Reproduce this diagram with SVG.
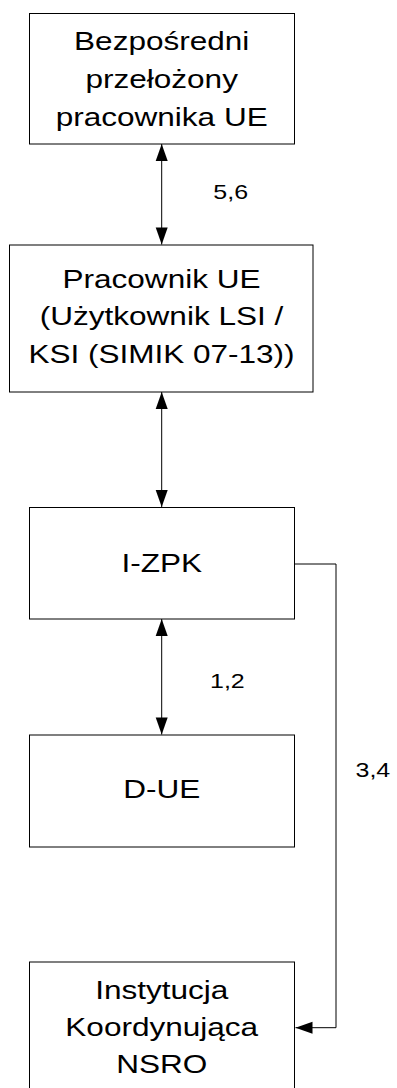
<svg xmlns="http://www.w3.org/2000/svg" width="397" height="1088" viewBox="0 0 397 1088">
<style>
.box{fill:#fff;stroke:#000;stroke-width:1}
.t{font-family:"Liberation Sans",Arial,sans-serif;font-size:26.5px;fill:#000;text-anchor:middle}
.l{font-family:"Liberation Sans",Arial,sans-serif;font-size:21px;fill:#000}
.c{fill:none;stroke:#000;stroke-width:1}
</style>
<defs>
<marker id="ah" markerUnits="userSpaceOnUse" markerWidth="18" markerHeight="12" refX="17" refY="6" orient="auto-start-reverse" overflow="visible">
<path d="M0,0 L17,6 L0,12 Z" fill="#000"/>
</marker>
</defs>
<rect width="397" height="1088" fill="#fff"/>
<g id="node-bezposredni">
<rect class="box" x="29.5" y="13.5" width="265" height="130.5"/>
<g transform="translate(161.7,0) scale(1.19,1)">
<text class="t" x="0" y="50">Bezpośredni</text>
<text class="t" x="0" y="87.8">przełożony</text>
<text class="t" x="0" y="125.6">pracownika UE</text>
</g>
</g>
<g id="node-pracownik">
<rect class="box" x="9.5" y="245" width="303.5" height="147"/>
<g transform="translate(161.5,0) scale(1.19,1)">
<text class="t" x="0" y="287.7">Pracownik UE</text>
<text class="t" x="0" y="325.5">(Użytkownik LSI /</text>
<text class="t" x="0" y="363.3">KSI (SIMIK 07-13))</text>
</g>
</g>
<g id="node-izpk">
<rect class="box" x="29.5" y="507.5" width="265" height="111.5"/>
<g transform="translate(161.7,0) scale(1.19,1)">
<text class="t" x="0" y="571.7">I-ZPK</text>
</g>
</g>
<g id="node-due">
<rect class="box" x="29.5" y="735" width="265" height="112"/>
<g transform="translate(161.7,0) scale(1.19,1)">
<text class="t" x="0" y="798.5">D-UE</text>
</g>
</g>
<g id="node-ik-nsro">
<rect class="box" x="29.5" y="962" width="265" height="140"/>
<g transform="translate(161.7,0) scale(1.19,1)">
<text class="t" x="0" y="999">Instytucja</text>
<text class="t" x="0" y="1036.5">Koordynująca</text>
<text class="t" x="0" y="1073.5">NSRO</text>
</g>
</g>
<g id="connectors">
<line class="c" x1="161.7" y1="144" x2="161.7" y2="244.5" marker-start="url(#ah)" marker-end="url(#ah)"/>
<line class="c" x1="161.7" y1="392" x2="161.7" y2="507" marker-start="url(#ah)" marker-end="url(#ah)"/>
<line class="c" x1="161.7" y1="619" x2="161.7" y2="734.5" marker-start="url(#ah)" marker-end="url(#ah)"/>
<polyline class="c" points="294.5,564 336,564 336,1027.7 295.5,1027.7" marker-end="url(#ah)"/>
<g transform="translate(213.3,0) scale(1.19,1)"><text class="l" x="0" y="199.3">5,6</text></g>
<g transform="translate(210,0) scale(1.19,1)"><text class="l" x="0" y="688.3">1,2</text></g>
<g transform="translate(355.5,0) scale(1.19,1)"><text class="l" x="0" y="777.3">3,4</text></g>
</g>
</svg>
